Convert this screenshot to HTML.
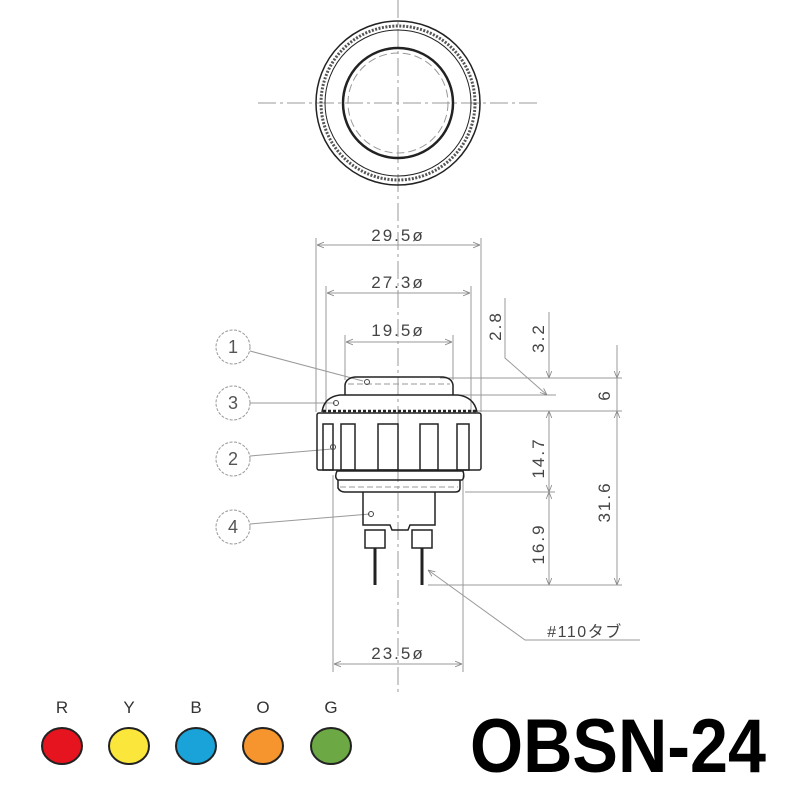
<!DOCTYPE html>
<html><head><meta charset="utf-8"><style>html,body{margin:0;padding:0;background:#fff}svg{display:block}</style></head>
<body>
<svg width="800" height="800" viewBox="0 0 800 800" xmlns="http://www.w3.org/2000/svg" font-family="Liberation Sans, sans-serif">
<defs>
<marker id="a" viewBox="0 0 10 10" refX="10" refY="5" markerWidth="7" markerHeight="7" orient="auto-start-reverse"><path d="M0,1 L10,5 L0,9" fill="none" stroke="#888" stroke-width="1.2"/></marker>
</defs>
<g stroke="#999" stroke-width="1" fill="none">
<line x1="398" y1="0" x2="398" y2="692" stroke-dasharray="18,4,3,4"/>
<line x1="258" y1="103" x2="540" y2="103" stroke-dasharray="18,4,3,4"/>
</g>
<g fill="none" stroke="#222">
<circle cx="398" cy="103" r="82" stroke-width="1.5"/>
<circle cx="398" cy="103" r="77" stroke-width="3" stroke-dasharray="2,1.5" stroke="#555"/>
<circle cx="398" cy="103" r="73" stroke-width="1"/>
<circle cx="398" cy="103" r="55" stroke-width="2.5"/>
<circle cx="398" cy="103" r="50" stroke-width="1" stroke="#999" stroke-dasharray="8,4"/>
</g>
<g stroke="#999" stroke-width="1" fill="none">
<line x1="316" y1="238" x2="316" y2="412"/><line x1="481" y1="238" x2="481" y2="412"/>
<line x1="317" y1="245" x2="480" y2="245" marker-start="url(#a)" marker-end="url(#a)"/>
<line x1="326" y1="286" x2="326" y2="412"/><line x1="471" y1="286" x2="471" y2="412"/>
<line x1="327" y1="293" x2="470" y2="293" marker-start="url(#a)" marker-end="url(#a)"/>
<line x1="345" y1="335" x2="345" y2="380"/><line x1="453" y1="335" x2="453" y2="380"/>
<line x1="346" y1="342" x2="452" y2="342" marker-start="url(#a)" marker-end="url(#a)"/>
<line x1="333" y1="475" x2="333" y2="672"/><line x1="463" y1="475" x2="463" y2="672"/>
<line x1="334" y1="664" x2="462" y2="664" marker-start="url(#a)" marker-end="url(#a)"/>
<line x1="440" y1="378" x2="622" y2="378"/>
<line x1="460" y1="395" x2="556" y2="395"/>
<line x1="470" y1="411" x2="622" y2="411"/>
<line x1="465" y1="492" x2="555" y2="492"/>
<line x1="428" y1="585" x2="622" y2="585"/>
<line x1="549" y1="312" x2="549" y2="378" marker-end="url(#a)"/>
<line x1="549" y1="411" x2="549" y2="492" marker-start="url(#a)" marker-end="url(#a)"/>
<line x1="549" y1="492" x2="549" y2="585" marker-start="url(#a)" marker-end="url(#a)"/>
<line x1="617" y1="345" x2="617" y2="378" marker-end="url(#a)"/>
<line x1="617" y1="378" x2="617" y2="411" />
<line x1="617" y1="411" x2="617" y2="585" marker-start="url(#a)" marker-end="url(#a)"/>
<polyline points="505,298 505,358 547,395" marker-end="url(#a)"/>
<polyline points="640,640 525,640 428,570" marker-end="url(#a)"/>
<circle cx="233" cy="347" r="17" stroke-dasharray="3,1.5"/>
<circle cx="233" cy="403" r="17" stroke-dasharray="3,1.5"/>
<circle cx="233" cy="459" r="17" stroke-dasharray="3,1.5"/>
<circle cx="233" cy="527" r="17" stroke-dasharray="3,1.5"/>
<line x1="250" y1="351" x2="363" y2="381"/>
<line x1="250" y1="403" x2="335" y2="403"/>
<line x1="250" y1="456" x2="332" y2="449"/>
<line x1="250" y1="524" x2="370" y2="514"/>
</g>
<g fill="none" stroke="#222" stroke-width="1.5">
<path d="M345,395 L345,385 Q346,378 355,377 L443,377 Q452,378 453,385 L453,395"/>
<line x1="348" y1="384" x2="450" y2="384" stroke="#999" stroke-width="1" stroke-dasharray="6,3"/>
<path d="M322,412 Q324,397 340,395 L458,395 Q474,397 477,412"/>
<line x1="323" y1="411" x2="476" y2="411" stroke-width="2.5" stroke-dasharray="3,2"/>
<rect x="317" y="413" width="164" height="57" rx="2"/>
<rect x="323" y="424" width="10" height="46"/>
<rect x="341" y="424" width="14" height="46"/>
<rect x="378" y="424" width="20" height="46"/>
<rect x="420" y="424" width="18" height="46"/>
<rect x="457" y="424" width="12" height="46"/>
<path d="M337,471 L463,471 Q465,478 462,480 L338,480 Q334,478 337,471 Z"/>
<path d="M338,480 L338,488 Q340,492 345,492 L455,492 Q460,492 460,488 L460,480"/>
<line x1="340" y1="487" x2="458" y2="487" stroke="#999" stroke-width="1" stroke-dasharray="6,3"/>
<path d="M363,492 L363,525 L390,525 L392,530 L408,530 L410,525 L435,525 L435,492"/>
<rect x="365" y="530" width="20" height="18"/>
<rect x="412" y="530" width="20" height="18"/>
<line x1="375" y1="548" x2="375" y2="585" stroke-width="3"/>
<line x1="422" y1="548" x2="422" y2="585" stroke-width="3"/>
</g>
<g fill="none" stroke="#444" stroke-width="1">
<circle cx="367" cy="382" r="2.5"/><circle cx="336" cy="403" r="2.5"/><circle cx="333" cy="447" r="2.5"/><circle cx="371" cy="514" r="2.5"/>
</g>
<g fill="#444" font-size="17" letter-spacing="2">
<text x="398" y="241" text-anchor="middle">29.5ø</text>
<text x="398" y="288" text-anchor="middle">27.3ø</text>
<text x="398" y="336" text-anchor="middle">19.5ø</text>
<text x="398" y="659" text-anchor="middle">23.5ø</text>
<text x="585" y="637" text-anchor="middle" font-size="16" letter-spacing="1.5" font-family="Liberation Sans, Noto Sans CJK JP, sans-serif">#110タブ</text>
<text transform="translate(501,326) rotate(-90)" text-anchor="middle">2.8</text>
<text transform="translate(544,338) rotate(-90)" text-anchor="middle">3.2</text>
<text transform="translate(610,395) rotate(-90)" text-anchor="middle">6</text>
<text transform="translate(544,458) rotate(-90)" text-anchor="middle">14.7</text>
<text transform="translate(610,502) rotate(-90)" text-anchor="middle">31.6</text>
<text transform="translate(544,544) rotate(-90)" text-anchor="middle">16.9</text>
</g>
<g fill="#555" font-size="18" text-anchor="middle">
<text x="233" y="353">1</text><text x="233" y="409">3</text><text x="233" y="465">2</text><text x="233" y="533">4</text>
</g>
<g font-size="17" fill="#333" text-anchor="middle">
<text x="62" y="713">R</text><text x="129" y="713">Y</text><text x="196" y="713">B</text><text x="263" y="713">O</text><text x="331" y="713">G</text>
</g>
<g stroke="#222" stroke-width="2">
<ellipse cx="62" cy="746" rx="20" ry="18" fill="#e5141f"/>
<ellipse cx="129" cy="746" rx="20" ry="18" fill="#fbe73c"/>
<ellipse cx="196" cy="746" rx="20" ry="18" fill="#1aa3d9"/>
<ellipse cx="263" cy="746" rx="20" ry="18" fill="#f6952d"/>
<ellipse cx="331" cy="746" rx="20" ry="18" fill="#6ca843"/>
</g>
<text x="470" y="772" font-size="76" font-weight="bold" textLength="296" lengthAdjust="spacingAndGlyphs" fill="#000">OBSN-24</text>
</svg>
</body></html>
